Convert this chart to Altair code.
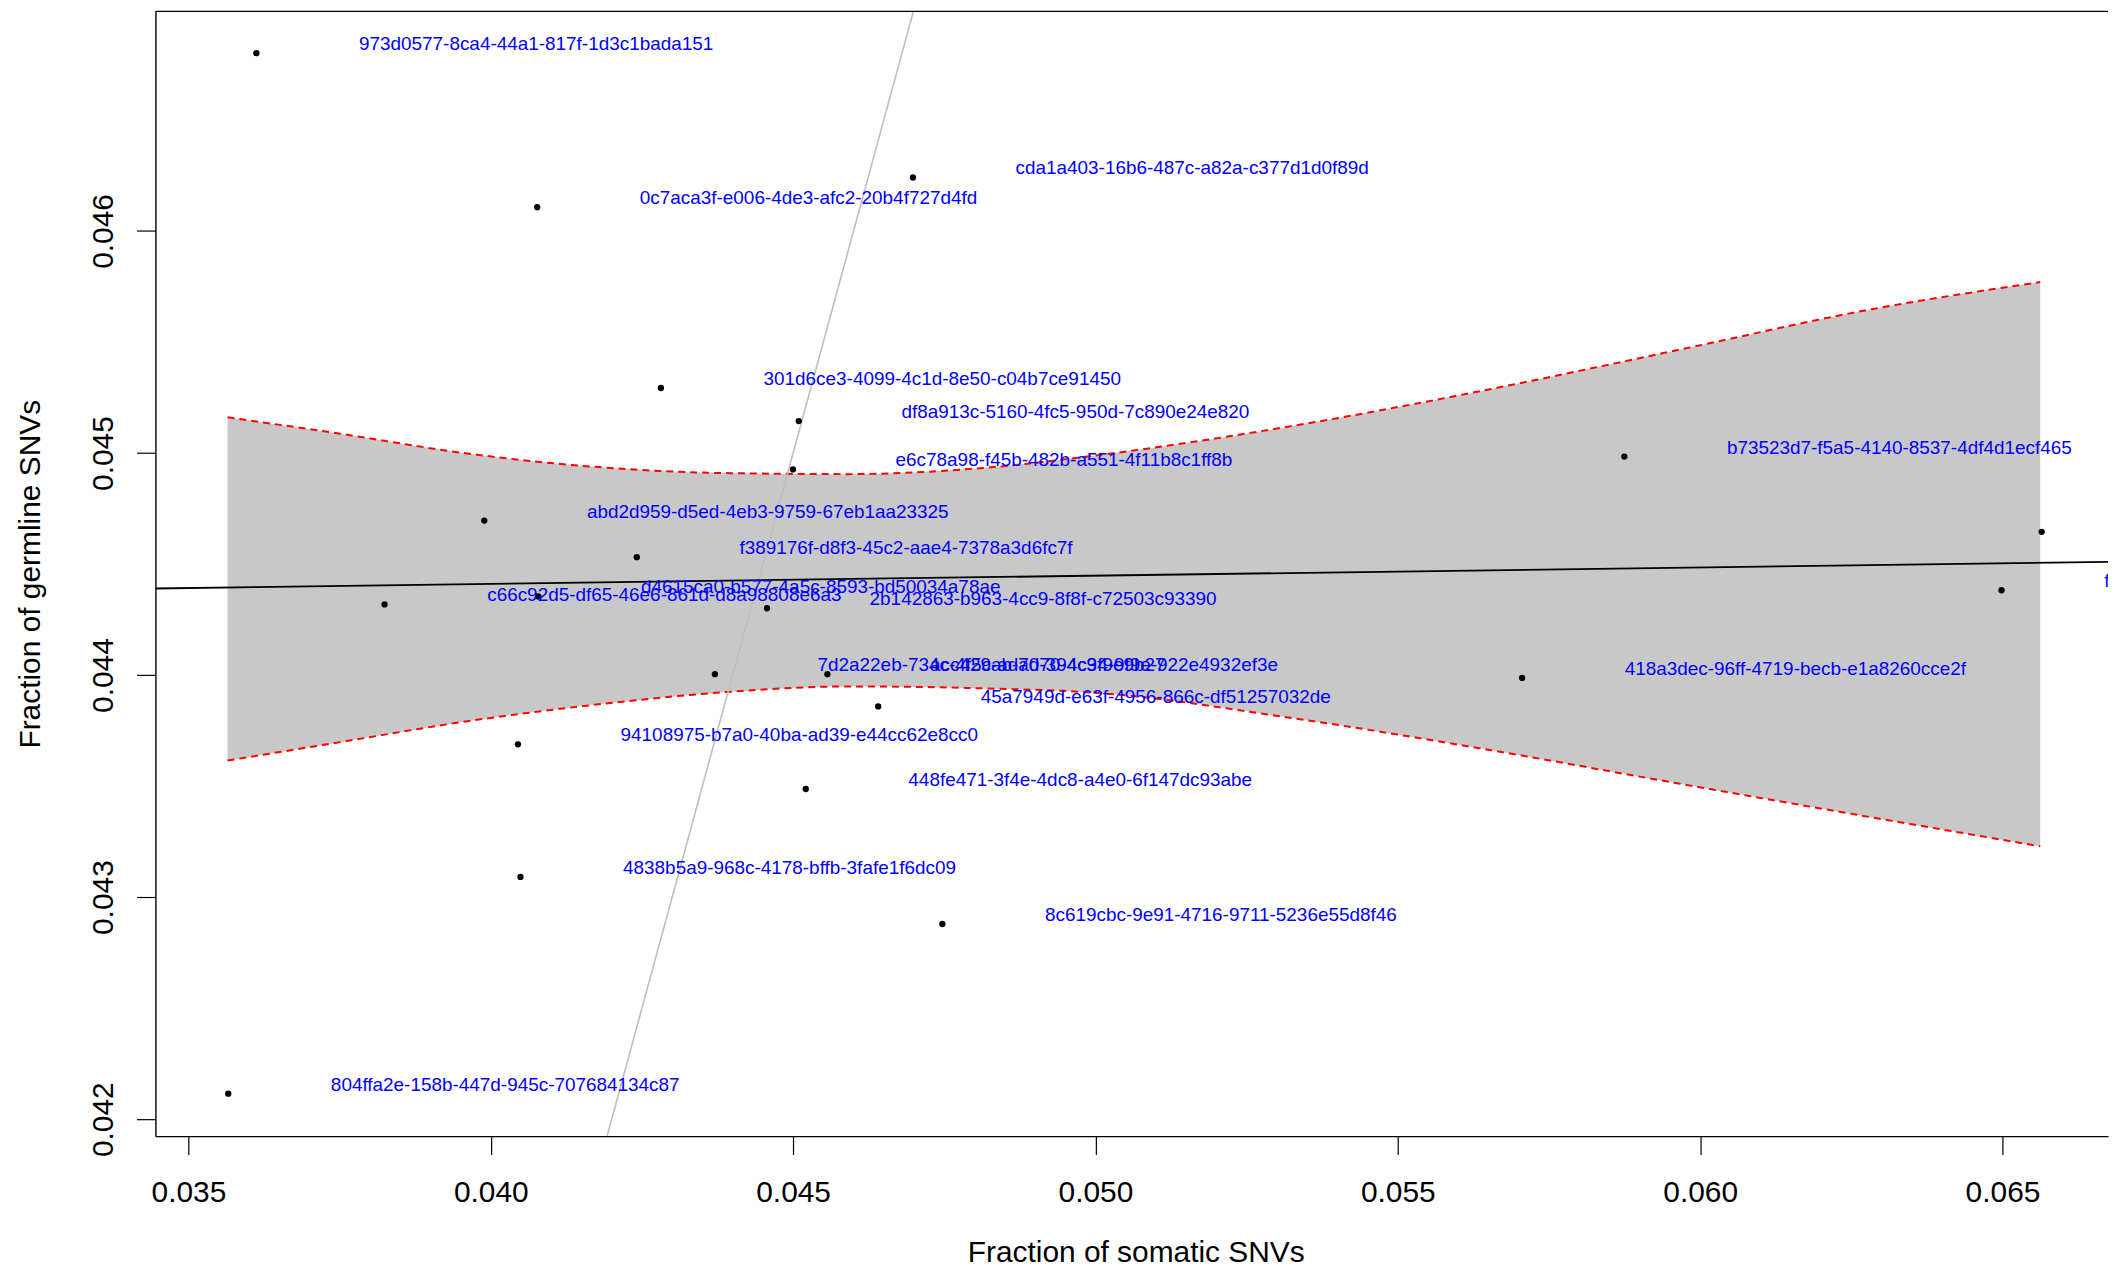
import altair as alt
import pandas as pd

# ---- data ----
somatic = [0.036124, 0.040768, 0.046982, 0.042814, 0.045094, 0.044998, 0.039893,
           0.042415, 0.038244, 0.040786, 0.044568, 0.043707, 0.045567, 0.046407,
           0.040450, 0.045209, 0.040491, 0.047468, 0.035659, 0.058746, 0.057056,
           0.065648, 0.064984]
germline = [0.046801, 0.046107, 0.046241, 0.045293, 0.045144, 0.044926, 0.044696,
            0.044531, 0.044318, 0.044354, 0.044301, 0.044004, 0.044004, 0.043859,
            0.043688, 0.043487, 0.043091, 0.042879, 0.042115, 0.044984, 0.043987,
            0.044645, 0.044382]
sample_ids = [
    "973d0577-8ca4-44a1-817f-1d3c1bada151",
    "0c7aca3f-e006-4de3-afc2-20b4f727d4fd",
    "cda1a403-16b6-487c-a82a-c377d1d0f89d",
    "301d6ce3-4099-4c1d-8e50-c04b7ce91450",
    "df8a913c-5160-4fc5-950d-7c890e24e820",
    "e6c78a98-f45b-482b-a551-4f11b8c1ff8b",
    "abd2d959-d5ed-4eb3-9759-67eb1aa23325",
    "f389176f-d8f3-45c2-aae4-7378a3d6fc7f",
    "c66c92d5-df65-46e6-861d-d8a98808e6a3",
    "d4615ca0-b577-4a5c-8593-bd50034a78ae",
    "2b142863-b963-4cc9-8f8f-c72503c93390",
    "7d2a22eb-734c-4f5c-ad70-394c3f9e9b27",
    "acc429ab-ad70-4c94-9f9e-922e4932ef3e",
    "45a7949d-e63f-4956-866c-df51257032de",
    "94108975-b7a0-40ba-ad39-e44cc62e8cc0",
    "448fe471-3f4e-4dc8-a4e0-6f147dc93abe",
    "4838b5a9-968c-4178-bffb-3fafe1f6dc09",
    "8c619cbc-9e91-4716-9711-5236e55d8f46",
    "804ffa2e-158b-447d-945c-707684134c87",
    "b73523d7-f5a5-4140-8537-4df4d1ecf465",
    "418a3dec-96ff-4719-becb-e1a8260cce2f",
    "5b2e8c41-7d3a-4f96-b1e0-c8a2d4f7e953",
    "f1e8c2a7-3b5d-4c9e-a6f0-2d7b9e1c4a58",
]

# confidence band
band_x = [0.035647, 0.037507, 0.039610, 0.041710, 0.043812, 0.045913, 0.048013,
          0.050115, 0.053216, 0.056425, 0.059634, 0.062844, 0.065624]
band_hi = [0.045161, 0.045087, 0.044998, 0.044938, 0.044910, 0.044905, 0.044930,
           0.044993, 0.045120, 0.045282, 0.045464, 0.045648, 0.045770]
band_lo = [0.043615, 0.043698, 0.043792, 0.043866, 0.043922, 0.043949, 0.043941,
           0.043918, 0.043808, 0.043667, 0.043512, 0.043359, 0.043229]

# fitted regression line (end points at the plot edges)
fit_x = [0.03445, 0.06675]
fit_y = [0.04439, 0.04451]
# identity line y = x
ident_x = [0.0419, 0.0470]
ident_y = [0.0419, 0.0470]

x_ticks = [0.035, 0.040, 0.045, 0.050, 0.055, 0.060, 0.065]
y_ticks = [0.042, 0.043, 0.044, 0.045, 0.046]

# ---- layout ----
W, H = 1960, 1129
FONT = "Liberation Sans"

pts = pd.DataFrame({"x": somatic, "y": germline, "label": sample_ids})
band = pd.DataFrame({"x": band_x, "y": band_lo, "hi": band_hi})
band_hi_df = pd.DataFrame({"x": band_x, "y": band_hi})
band_lo_df = pd.DataFrame({"x": band_x, "y": band_lo})
fit = pd.DataFrame({"x": fit_x, "y": fit_y})
ident = pd.DataFrame({"x": ident_x, "y": ident_y})

xs = alt.Scale(domain=[0.0344547, 0.066745], nice=False, zero=False)
ys = alt.Scale(domain=[0.0419237, 0.046989], nice=False, zero=False)

xaxis = alt.Axis(values=x_ticks, format=".3f", title="Fraction of somatic SNVs",
                 titleFont=FONT, titleFontSize=30, titleFontWeight="normal",
                 titleColor="black", titleX=984, titleY=126, titleAlign="center",
                 titleBaseline="alphabetic", labelFont=FONT, labelFontSize=30,
                 labelColor="black", labelBaseline="alphabetic", labelPadding=47,
                 labelFlush=False, labelOverlap=False, tickSize=18.5,
                 tickColor="black", tickWidth=1.2, domainColor="black",
                 domainWidth=1.4, grid=False)
yaxis = alt.Axis(values=y_ticks, format=".3f", title="Fraction of germline SNVs",
                 titleFont=FONT, titleFontSize=30, titleFontWeight="normal",
                 titleColor="black", titleAngle=270, titleX=-116, titleY=564.5,
                 titleAlign="center", titleBaseline="alphabetic",
                 labelFont=FONT, labelFontSize=30, labelColor="black",
                 labelAngle=270, labelAlign="center", labelBaseline="alphabetic",
                 labelPadding=24, labelFlush=False, labelOverlap=False,
                 tickSize=19, tickColor="black", tickWidth=1.2,
                 domainColor="black", domainWidth=1.4, grid=False)


def X():
    return alt.X("x:Q", scale=xs, axis=xaxis)


def Y():
    return alt.Y("y:Q", scale=ys, axis=yaxis)


band_layer = alt.Chart(band).mark_area(color="#c8c8c8", opacity=1,
                                       interpolate="monotone").encode(
    x=X(), y=Y(), y2="hi:Q")
hi_line = alt.Chart(band_hi_df).mark_line(color="#ff0000", strokeWidth=2,
                                          strokeDash=[7, 5],
                                          interpolate="monotone").encode(x=X(), y=Y())
lo_line = alt.Chart(band_lo_df).mark_line(color="#ff0000", strokeWidth=2,
                                          strokeDash=[7, 5],
                                          interpolate="monotone").encode(x=X(), y=Y())
fit_line = alt.Chart(fit).mark_line(color="black", strokeWidth=1.8,
                                    clip=True).encode(x=X(), y=Y())
ident_line = alt.Chart(ident).mark_line(color="#bebebe", strokeWidth=1.6,
                                        clip=True).encode(x=X(), y=Y())
top_border = alt.Chart(pd.DataFrame({"a": [0]})).mark_rule(
    color="black", strokeWidth=1.4).encode(
    x=alt.value(0), x2=alt.value(W), y=alt.value(0))
points = alt.Chart(pts).mark_circle(color="black", size=40, opacity=1,
                                    clip=True).encode(x=X(), y=Y())
labels = alt.Chart(pts).mark_text(align="left", baseline="middle", dx=103, dy=-9,
                                  color="#0000ff", font=FONT, fontSize=19,
                                  clip=True).encode(x=X(), y=Y(), text="label:N")

chart = alt.layer(band_layer, hi_line, lo_line, ident_line, fit_line, top_border,
                  points, labels).properties(
    width=W, height=H, autosize="none",
    padding={"left": 148, "top": 1, "right": 2, "bottom": 133},
    background="white",
).configure_view(stroke="transparent")

chart.save("out.html", embed_options={"renderer": "svg", "actions": False})
